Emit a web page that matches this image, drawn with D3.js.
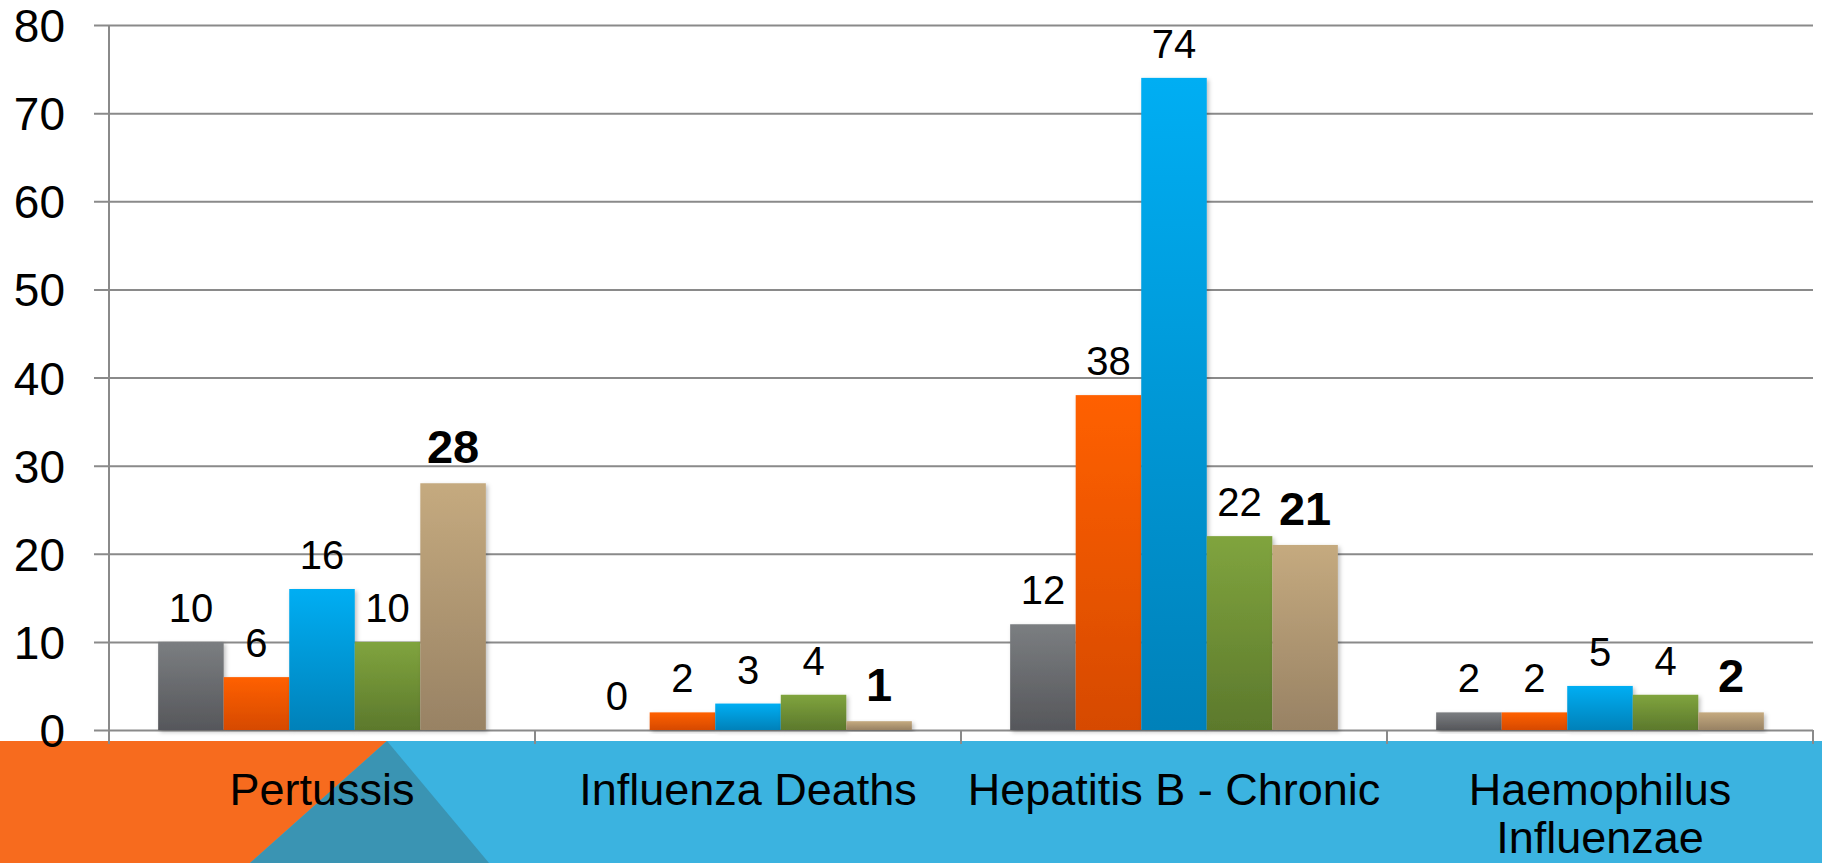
<!DOCTYPE html>
<html>
<head>
<meta charset="utf-8">
<script src="https://cdn.jsdelivr.net/npm/d3@7"></script>
<style>
  body { margin: 0; background: #fff; }
  svg { display: block; font-family: "Liberation Sans", Arial, sans-serif; }
</style>
</head>
<body>
<svg></svg>
<script>
// Chart data
const categories = ["Pertussis", "Influenza Deaths", "Hepatitis B - Chronic", "Haemophilus Influenzae"];
const seriesNames = ["Series 1", "Series 2", "Series 3", "Series 4", "Series 5"];
const series1 = [10, 0, 12, 2];
const series2 = [6, 2, 38, 2];
const series3 = [16, 3, 74, 5];
const series4 = [10, 4, 22, 4];
const series5 = [28, 1, 21, 2];
const yTicks = [0, 10, 20, 30, 40, 50, 60, 70, 80];

const seriesValues = [series1, series2, series3, series4, series5];

// gradient colours (top, bottom) for each series
const barColors = [
  ["#7b7e81", "#56575b"],
  ["#ff6000", "#d64a00"],
  ["#00aef3", "#0081b9"],
  ["#80a43e", "#5c792c"],
  ["#c5aa7f", "#988264"]
];

const W = 1822, H = 863;
const margin = { top: 25, left: 109, right: 9 };
const plotBottom = 730;

const svg = d3.select("svg").attr("width", W).attr("height", H);

// Gradients and shadow
const defs = svg.append("defs");
barColors.forEach((c, i) => {
  const g = defs.append("linearGradient")
    .attr("id", "grad" + i)
    .attr("x1", 0).attr("y1", 0).attr("x2", 0).attr("y2", 1);
  g.append("stop").attr("offset", "0%").attr("stop-color", c[0]);
  g.append("stop").attr("offset", "100%").attr("stop-color", c[1]);
});
defs.append("filter")
    .attr("id", "shadow")
    .attr("x", "-20%").attr("y", "-20%").attr("width", "140%").attr("height", "140%")
  .append("feDropShadow")
    .attr("dx", 2).attr("dy", 2).attr("stdDeviation", 2)
    .attr("flood-color", "#000").attr("flood-opacity", 0.25);

// Scales
const x0 = d3.scaleBand()
  .domain(categories)
  .range([margin.left, W - margin.right])
  .padding(0);

const x1 = d3.scaleBand()
  .domain(d3.range(seriesNames.length))
  .range([0, x0.bandwidth()])
  .paddingInner(0)
  .paddingOuter(0.75);

const y = d3.scaleLinear()
  .domain([0, 80])
  .range([plotBottom, margin.top]);

// Bottom decorative band
const bandTop = 741;
svg.append("rect")
  .attr("x", 0).attr("y", bandTop)
  .attr("width", W).attr("height", H - bandTop)
  .attr("fill", "#3bb3e0");
svg.append("polygon")
  .attr("points", `0,${bandTop} 387,${bandTop} 250,${H} 0,${H}`)
  .attr("fill", "#f76b1e");
svg.append("polygon")
  .attr("points", `387,${bandTop} 250,${H} 489,${H}`)
  .attr("fill", "#3a94b3");

// Gridlines + y labels
const yAxis = svg.append("g")
  .attr("transform", `translate(${margin.left},0)`)
  .call(d3.axisLeft(y)
    .tickValues(yTicks)
    .tickSize(-(W - margin.left - margin.right))
    .tickPadding(0));
yAxis.select(".domain").remove();
yAxis.selectAll(".tick line")
  .attr("x1", -15)
  .attr("stroke", "#8a8a8a")
  .attr("stroke-width", 2);
yAxis.selectAll(".tick text")
  .attr("x", -44)
  .attr("dy", "0.36em")
  .attr("fill", "#000")
  .style("font-size", "46px");

// vertical axis line
svg.append("line")
  .attr("x1", margin.left).attr("x2", margin.left)
  .attr("y1", y(80)).attr("y2", 744)
  .attr("stroke", "#8a8a8a").attr("stroke-width", 2);

// category dividers
svg.append("g")
  .selectAll("line")
  .data(categories)
  .join("line")
  .attr("x1", d => x0(d) + x0.bandwidth())
  .attr("x2", d => x0(d) + x0.bandwidth())
  .attr("y1", plotBottom)
  .attr("y2", 744)
  .attr("stroke", "#8a8a8a").attr("stroke-width", 2);

// Bars
const groups = svg.append("g")
  .selectAll("g")
  .data(categories)
  .join("g")
  .attr("transform", d => `translate(${x0(d)},0)`);

const cells = groups.selectAll("g")
  .data((d, ci) => seriesValues.map((vals, si) => ({ si, value: vals[ci] })))
  .join("g");

cells.append("rect")
  .attr("x", d => x1(d.si))
  .attr("y", d => y(d.value))
  .attr("width", x1.bandwidth())
  .attr("height", d => y(0) - y(d.value))
  .attr("fill", d => `url(#grad${d.si})`)
  .attr("filter", "url(#shadow)");

// Data labels (last series bold)
cells.append("text")
  .attr("x", d => x1(d.si) + x1.bandwidth() / 2)
  .attr("y", d => y(d.value) - 20)
  .attr("text-anchor", "middle")
  .attr("fill", "#000")
  .style("font-size", d => d.si === 4 ? "47px" : "40px")
  .style("font-weight", d => d.si === 4 ? "bold" : "normal")
  .text(d => d.value);

// Category labels
const catLabels = svg.append("g")
  .selectAll("text")
  .data(categories)
  .join("text")
  .attr("x", d => x0(d) + x0.bandwidth() / 2)
  .attr("y", 805)
  .attr("text-anchor", "middle")
  .attr("fill", "#000")
  .style("font-size", "45px")
  .text(d => d);

// wrap long labels onto two lines
catLabels.each(function(d) {
  const t = d3.select(this);
  if (this.getComputedTextLength() <= x0.bandwidth() - 4) return;
  const words = d.split(" ");
  const cx = t.attr("x");
  t.text(null);
  t.append("tspan").attr("x", cx).attr("dy", 0).text(words.slice(0, -1).join(" "));
  t.append("tspan").attr("x", cx).attr("dy", 48).text(words[words.length - 1]);
});
</script>
</body>
</html>
